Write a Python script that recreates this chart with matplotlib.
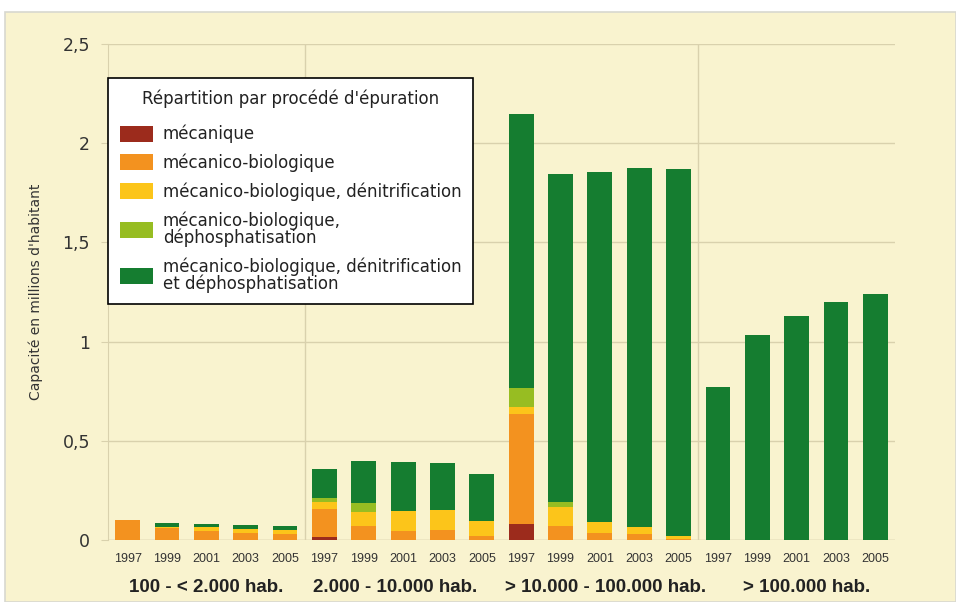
import numpy as np
import matplotlib.pyplot as plt
from matplotlib.patches import Rectangle
from matplotlib.transforms import blended_transform_factory

years = ['1997', '1999', '2001', '2003', '2005']
groups = ['100 - < 2.000 hab.', '2.000 - 10.000 hab.',
          '> 10.000 - 100.000 hab.', '> 100.000 hab.']

# valeurs par segment (millions d'habitants), 4 groupes x 5 annees
mecanique = [0.0, 0.0, 0.0, 0.0, 0.0,
             0.013, 0.0, 0.0, 0.0, 0.0,
             0.08, 0.0, 0.0, 0.0, 0.0,
             0.0, 0.0, 0.0, 0.0, 0.0]
meca_bio = [0.10, 0.06, 0.047, 0.035, 0.03,
            0.143, 0.072, 0.047, 0.05, 0.02,
            0.554, 0.071, 0.037, 0.029, 0.005,
            0.0, 0.0, 0.0, 0.0, 0.0]
meca_bio_denit = [0.0, 0.008, 0.02, 0.02, 0.02,
                  0.034, 0.068, 0.098, 0.102, 0.075,
                  0.036, 0.097, 0.053, 0.038, 0.015,
                  0.0, 0.0, 0.0, 0.0, 0.0]
meca_bio_dephos = [0.0, 0.0, 0.0, 0.0, 0.0,
                   0.02, 0.045, 0.0, 0.0, 0.0,
                   0.098, 0.022, 0.0, 0.0, 0.0,
                   0.0, 0.0, 0.0, 0.0, 0.0]
meca_bio_denit_dephos = [0.0, 0.019, 0.016, 0.021, 0.023,
                         0.146, 0.215, 0.247, 0.238, 0.24,
                         1.378, 1.655, 1.767, 1.806, 1.852,
                         0.773, 1.033, 1.129, 1.198, 1.238]

series = [
    ("mécanique", mecanique, '#9c2b1c'),
    ("mécanico-biologique", meca_bio, '#f3921f'),
    ("mécanico-biologique, dénitrification", meca_bio_denit, '#fcc51a'),
    ("mécanico-biologique,\ndéphosphatisation", meca_bio_dephos, '#97bd22'),
    ("mécanico-biologique, dénitrification\net déphosphatisation", meca_bio_denit_dephos, '#157d30'),
]

cream = '#f9f3cf'
grid_c = '#d9d1ad'

fig = plt.figure(figsize=(9.56, 6.02), dpi=100, facecolor='white')
bg = Rectangle((5 / 956, 0), 951 / 956, 1 - 12 / 602,
               transform=fig.transFigure, facecolor=cream,
               edgecolor='#d8d8d0', lw=1.2, zorder=-10)
fig.add_artist(bg)

ax = fig.add_axes([108 / 956, 62 / 602, 787 / 956, 496 / 602])
ax.set_facecolor(cream)
ax.set_zorder(1)

x = np.arange(20)
bottom = np.zeros(20)
handles = []
for label, vals, col in series:
    vals = np.array(vals)
    b = ax.bar(x, vals, width=0.63, bottom=bottom, color=col, label=label, zorder=3)
    handles.append(b)
    bottom += vals

ax.set_xlim(-0.5, 19.5)
ax.set_ylim(0, 2.5)
ax.set_yticks([0, 0.5, 1, 1.5, 2, 2.5])
ax.set_yticklabels(['0', '0,5', '1', '1,5', '2', '2,5'], fontsize=12.5, color='#333333')
ax.set_xticks(x)
ax.set_xticklabels(years * 4, fontsize=9, color='#333333', family='Liberation Sans')
ax.tick_params(axis='x', length=0, pad=9)
ax.tick_params(axis='y', length=5, color=grid_c, pad=8)
ax.yaxis.grid(True, color=grid_c, lw=1, zorder=0)
ax.set_axisbelow(True)

for s in ['top', 'right', 'bottom']:
    ax.spines[s].set_visible(False)
ax.spines['left'].set_color(grid_c)
ax.axhline(0, color=grid_c, lw=1, zorder=1)

for sep in [4.5, 14.5]:
    ax.axvline(sep, color=grid_c, lw=1, zorder=1)

ax.set_ylabel("Capacité en millions d'habitant", fontsize=10, color='#333333', labelpad=14)

trans = blended_transform_factory(ax.transData, fig.transFigure)
group_x = [2, 6.8, 12.15, 17.25]
for gx, g in zip(group_x, groups):
    ax.text(gx, 1 - 588 / 602, g, transform=trans, ha='center', va='center',
            fontsize=13.5, fontweight='bold', color='#222222', family='Liberation Sans')

leg = ax.legend(handles=handles, title="Répartition par procédé d'épuration",
                loc='upper left', bbox_to_anchor=(0.0, 1 - 34 / 496),
                fontsize=12, title_fontsize=12, frameon=True, fancybox=False,
                edgecolor='black', facecolor='white', framealpha=1,
                handlelength=2.0, handleheight=1.1, labelspacing=0.62,
                borderpad=0.7, handletextpad=0.6, borderaxespad=0)
leg.get_frame().set_linewidth(1.2)
leg.set_zorder(10)
leg.get_title().set_color('#222222')
for t in leg.get_texts():
    t.set_linespacing(0.9)
    t.set_color('#222222')
leg._legend_box.sep = 12

fig.savefig('out.png', dpi=100, facecolor=fig.get_facecolor())
